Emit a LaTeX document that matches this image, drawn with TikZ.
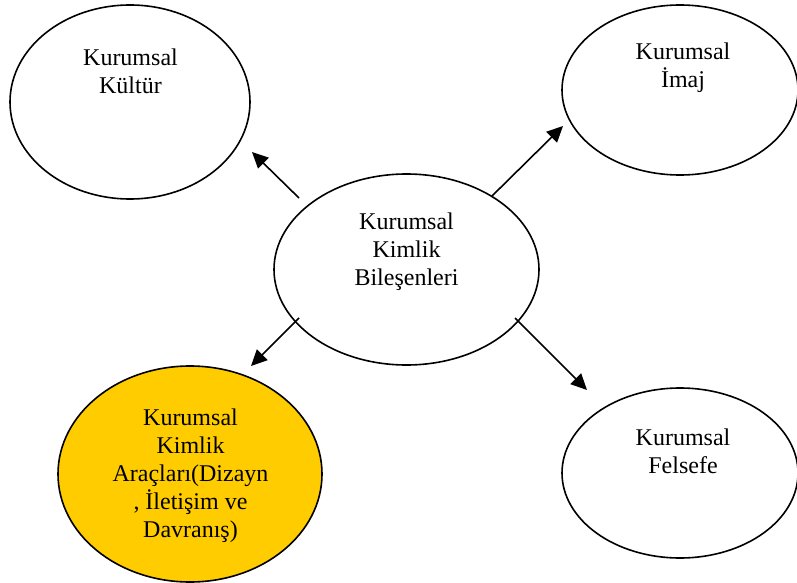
\documentclass[tikz,border=0pt]{standalone}
\usepackage{fontspec}
\setmainfont{Liberation Serif}
\usetikzlibrary{shapes.geometric,arrows.meta}
\definecolor{gold}{HTML}{FFCC00}
\begin{document}
\begin{tikzpicture}[x=1pt,y=-1pt,
  oval/.style={ellipse, draw, line width=1.6pt, inner sep=0pt, outer sep=0pt},
  lbl/.style={align=center, font=\fontsize{24}{28}\selectfont, inner sep=0pt},
  arr/.style={line width=1.6pt, -{Triangle[length=16pt,width=15pt]}}]
\useasboundingbox (0,0) rectangle (797,583);
\node[oval, minimum width=240pt, minimum height=194pt] (kultur) at (130,102) {};
\node[oval, minimum width=236pt, minimum height=170pt] (imaj) at (680,90) {};
\node[oval, minimum width=265pt, minimum height=191pt] (center) at (406.5,269.5) {};
\node[oval, fill=gold, minimum width=264pt, minimum height=216pt] (araclar) at (190,474) {};
\node[oval, minimum width=236pt, minimum height=170pt] (felsefe) at (680,473) {};
\node[lbl] (tkultur) at (130.5,71) {Kurumsal\\Kültür};
\node[lbl] (timaj) at (683,67.5) {Kurumsal\\İmaj};
\node[lbl] (tcenter) at (406.5,252) {Kurumsal\\Kimlik\\Bileşenleri};
\node[lbl] (taraclar) at (190.5,476) {Kurumsal\\Kimlik\\Araçları(Dizayn\\, İletişim ve\\Davranış)};
\node[lbl] (tfelsefe) at (683,451) {Kurumsal\\Felsefe};
\coordinate (s1) at (299,198); \coordinate (e1) at (252,152);
\coordinate (s2) at (492,196); \coordinate (e2) at (563,126);
\coordinate (s3) at (299,318); \coordinate (e3) at (251,366);
\coordinate (s4) at (515,318); \coordinate (e4) at (587,390);
\draw[arr] (s1) -- (e1);
\draw[arr] (s2) -- (e2);
\draw[arr] (s3) -- (e3);
\draw[arr] (s4) -- (e4);
\end{tikzpicture}
\end{document}
